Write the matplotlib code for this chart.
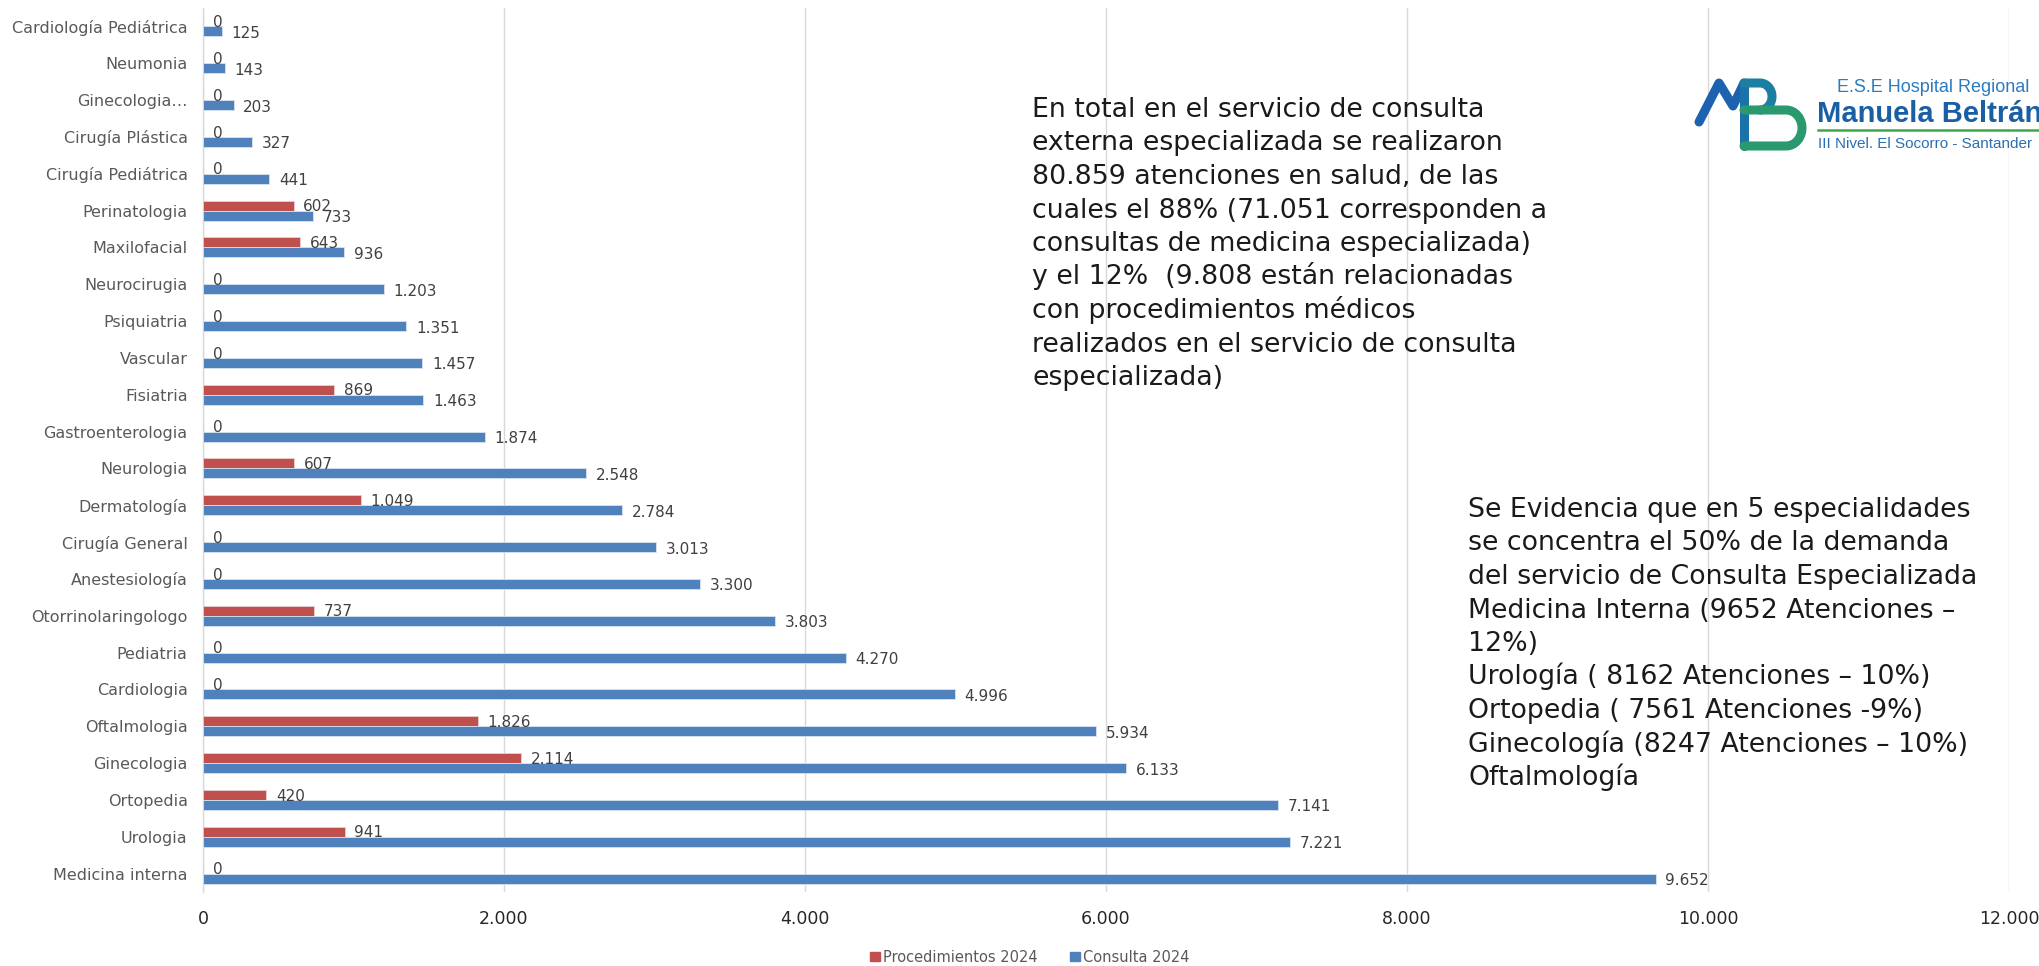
import numpy as np
import matplotlib.pyplot as plt
from matplotlib.patches import Patch

# Categories top to bottom as they appear in the chart
especialidades = ['Cardiología Pediátrica', 'Neumonia', 'Ginecologia…', 'Cirugía Plástica',
                  'Cirugía Pediátrica', 'Perinatologia', 'Maxilofacial', 'Neurocirugia',
                  'Psiquiatria', 'Vascular', 'Fisiatria', 'Gastroenterologia', 'Neurologia',
                  'Dermatología', 'Cirugía General', 'Anestesiología', 'Otorrinolaringologo',
                  'Pediatria', 'Cardiologia', 'Oftalmologia', 'Ginecologia', 'Ortopedia',
                  'Urologia', 'Medicina interna']
procedimientos = [0, 0, 0, 0, 0, 602, 643, 0, 0, 0, 869, 0, 607, 1049, 0, 0, 737,
                  0, 0, 1826, 2114, 420, 941, 0]
consulta = [125, 143, 203, 327, 441, 733, 936, 1203, 1351, 1457, 1463, 1874, 2548,
            2784, 3013, 3300, 3803, 4270, 4996, 5934, 6133, 7141, 7221, 9652]
xticks = [0, 2000, 4000, 6000, 8000, 10000, 12000]
series_names = ['Procedimientos 2024', 'Consulta 2024']

texto_total = ['En total en el servicio de consulta',
               'externa especializada se realizaron',
               '80.859 atenciones en salud, de las',
               'cuales el 88% (71.051 corresponden a',
               'consultas de medicina especializada)',
               'y el 12%  (9.808 están relacionadas',
               'con procedimientos médicos',
               'realizados en el servicio de consulta',
               'especializada)']
texto_evidencia = ['Se Evidencia que en 5 especialidades',
                   'se concentra el 50% de la demanda',
                   'del servicio de Consulta Especializada',
                   'Medicina Interna (9652 Atenciones –',
                   '12%)',
                   'Urología ( 8162 Atenciones – 10%)',
                   'Ortopedia ( 7561 Atenciones -9%)',
                   'Ginecología (8247 Atenciones – 10%)',
                   'Oftalmología']

RED = '#C0504D'
BLUE = '#4F81BD'
W, H = 2039, 966

plt.rcParams['font.family'] = ['DejaVu Sans']
fig = plt.figure(figsize=(W / 100, H / 100), dpi=100)

def fx(x):
    return x / W

def fy(y):
    return 1 - y / H

ax = fig.add_axes([fx(203), fy(892), fx(2009) - fx(203), fy(8) - fy(892)])

n = len(especialidades)
y = np.arange(n)[::-1]
bh = 0.27
ax.barh(y + bh / 2, procedimientos, height=bh, color=RED, edgecolor='#E8CFCF', linewidth=0.6, zorder=3)
ax.barh(y - bh / 2, consulta, height=bh, color=BLUE, edgecolor='#D6E2F0', linewidth=0.6, zorder=3)

def fmt(v):
    return f'{v:,}'.replace(',', '.')

for yi, p, c in zip(y, procedimientos, consulta):
    ax.annotate(fmt(p), (p, yi + bh / 2), xytext=(7, -0.8), textcoords='offset points',
                ha='left', va='center', fontsize=11, color='#404040', zorder=4)
    ax.annotate(fmt(c), (c, yi - bh / 2), xytext=(7, -1.5), textcoords='offset points',
                ha='left', va='center', fontsize=11, color='#404040', zorder=4)

ax.set_xlim(0, 12000)
ax.set_ylim(-0.5, n - 0.5)
ax.set_xticks(xticks)
ax.set_xticklabels([fmt(t) for t in xticks])
ax.set_yticks(y)
ax.set_yticklabels(especialidades)
ax.tick_params(axis='y', length=0, pad=11, labelsize=11.5, labelcolor='#595959')
ax.tick_params(axis='x', length=0, pad=13, labelsize=12.5, labelcolor='#262626')
ax.grid(axis='x', color='#D9D9D9', linewidth=1.0, zorder=0)
for s in ['top', 'right', 'bottom']:
    ax.spines[s].set_visible(False)
ax.spines['left'].set_color('#D9D9D9')
ax.spines['left'].set_linewidth(1.0)

# legend
handles = [Patch(color=RED), Patch(color=BLUE)]
fig.legend(handles, series_names, loc='center', bbox_to_anchor=(fx(1030), fy(957)),
           ncol=2, frameon=False, fontsize=10.5, labelcolor='#595959',
           handlelength=0.65, handleheight=0.65, handletextpad=0.25, columnspacing=2.2)

# text blocks
for i, line in enumerate(texto_total):
    fig.text(fx(1032), fy(117 + i * 33.5), line, fontsize=19.3, color='#1A1A1A', va='baseline')
for i, line in enumerate(texto_evidencia):
    fig.text(fx(1468), fy(517 + i * 33.5), line, fontsize=19.3, color='#1A1A1A', va='baseline')

# logo
lg = fig.add_axes([fx(1690), fy(158), fx(1815) - fx(1690), fy(70) - fy(158)])
lg.set_xlim(1690, 1815)
lg.set_ylim(158, 70)
lg.axis('off')
lw = 6.5
lg.plot([1699, 1719, 1733, 1744], [122, 83, 106, 83], color='#1D62AE', lw=lw,
        solid_capstyle='round', solid_joinstyle='round')
lg.plot([1744, 1744], [83, 146], color='#1B72A8', lw=lw, solid_capstyle='round')
t = np.linspace(-np.pi / 2, np.pi / 2, 40)
lg.plot(np.r_[1744, 1760 + 12 * np.cos(t)], np.r_[83, 96.5 + 13.5 * np.sin(t)],
        color='#1C7FA2', lw=lw, solid_capstyle='round')
lg.plot(np.r_[1744, 1786 + 16 * np.cos(t), 1744], np.r_[110, 128 + 18 * np.sin(t), 146],
        color='#2A9A6E', lw=lw, solid_capstyle='round', solid_joinstyle='round')

fig.text(fx(1837), fy(92), 'E.S.E Hospital Regional', family='Liberation Sans',
         fontsize=13, color='#2B7BC0', va='baseline')
fig.text(fx(1817), fy(122), 'Manuela Beltrán', family='Liberation Sans', fontweight='bold',
         fontsize=21, color='#1A5EA4', va='baseline')
fig.add_artist(plt.Line2D([fx(1818), 1.0], [fy(130), fy(130)], color='#3DAA4A', lw=1.8))
fig.text(fx(1818), fy(148), 'III Nivel. El Socorro - Santander', family='Liberation Sans',
         fontsize=11, color='#2B6FB0', va='baseline')

fig.savefig('out.png', dpi=100)
